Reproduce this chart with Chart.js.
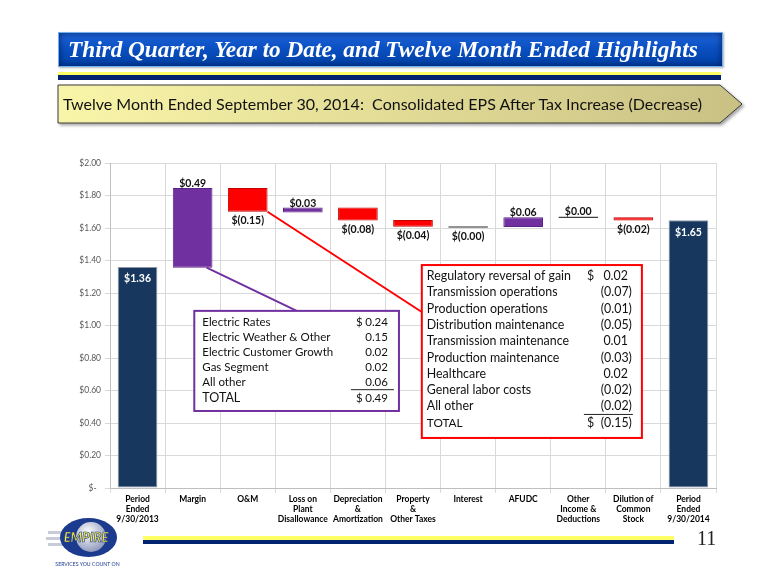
<!DOCTYPE html>
<html>
<head>
<meta charset="utf-8">
<script src="https://cdn.jsdelivr.net/npm/chart.js@4.4.1/dist/chart.umd.min.js"></script>
<style>
  body { margin: 0; background: #fff; }
  #page { position: relative; width: 780px; height: 585px; overflow: hidden; background: #fff; font-family: Lato, sans-serif; }
  #chart { position: absolute; left: 0; top: 0; }
  #titlebar {
    position: absolute; left: 58px; top: 32px; width: 663px; height: 33px;
    border: 1px solid #6fb0f0;
    background: linear-gradient(to bottom, #1f66d8 0%, #0b50c2 45%, #0041a6 100%);
    box-shadow: inset 0 0 7px rgba(0, 20, 80, .8), 1px 1px 2px rgba(0, 0, 0, .3);
  }
  #titletext {
    position: absolute; left: 9px; top: 0; line-height: 33px; white-space: nowrap; color: #fff;
    font-family: "Liberation Serif", serif; font-style: italic; font-weight: bold; font-size: 23px;
  }
  .stripe { position: absolute; }
  #subtitle { position: absolute; left: 56px; top: 83px; }
  #subtext { position: absolute; left: 63px; top: 92px; line-height: 24px; white-space: nowrap; color: #111; font-size: 17px; }
  #pagenum { position: absolute; left: 697px; top: 527px; font-family: "Liberation Serif", serif; font-size: 20px; color: #222; }
  #logo { position: absolute; left: 0; top: 500px; }
</style>
</head>
<body>
<div id="page">
  <canvas id="chart" width="780" height="585"></canvas>

  <div id="titlebar"><span id="titletext">Third Quarter, Year to Date, and Twelve Month Ended Highlights</span></div>
  <div class="stripe" style="left:58px;top:72px;width:663px;height:3px;background:#ffff66"></div>
  <div class="stripe" style="left:58px;top:75px;width:663px;height:5px;background:#002470"></div>

  <svg id="subtitle" width="700" height="50">
    <defs>
      <linearGradient id="khaki" x1="0" y1="0" x2="1" y2="0">
        <stop offset="0" stop-color="#f9f5a8"/>
        <stop offset="1" stop-color="#c9c184"/>
      </linearGradient>
      <filter id="shadow" x="-5%" y="-20%" width="110%" height="160%">
        <feDropShadow dx="2" dy="2" stdDeviation="1.5" flood-opacity="0.35"/>
      </filter>
    </defs>
    <polygon points="2,2 664,2 686,21 664,40 2,40" fill="url(#khaki)" stroke="#3a3a3a" stroke-width="1" filter="url(#shadow)"/>
  </svg>
  <div id="subtext">Twelve Month Ended September 30, 2014:&nbsp; Consolidated EPS After Tax Increase (Decrease)</div>

  <div class="stripe" style="left:143px;top:536px;width:531px;height:4px;background:#ffff66"></div>
  <div class="stripe" style="left:143px;top:540px;width:531px;height:4px;background:#002470"></div>
  <div id="pagenum">11</div>

  <svg id="logo" width="140" height="80">
    <defs>
      <radialGradient id="globe" cx="0.4" cy="0.35" r="0.7">
        <stop offset="0" stop-color="#ffffff"/>
        <stop offset="1" stop-color="#8a94b8"/>
      </radialGradient>
    </defs>
    <rect x="48" y="31" width="24" height="3" fill="#c8ccd8"/>
    <rect x="46" y="37" width="24" height="3" fill="#c8ccd8"/>
    <rect x="48" y="43" width="24" height="3" fill="#c8ccd8"/>
    <ellipse cx="88.5" cy="37.5" rx="28.5" ry="19.5" fill="#1c3b8e"/>
    <circle cx="91" cy="37" r="15" fill="url(#globe)"/>
    <text x="86" y="42" text-anchor="middle" font-family="Lato" font-style="italic" font-weight="900" font-size="13"
          fill="#f3e640" stroke="#1c3b8e" stroke-width="0.6">EMPIRE</text>
    <text x="87.5" y="66" text-anchor="middle" font-family="Lato" font-size="5.2" fill="#1c3b8e">SERVICES YOU COUNT ON</text>
  </svg>
</div>

<script>
// categories and waterfall values (start / end of each floating bar)
const categories = [
  ["Period", "Ended", "9/30/2013"], "Margin", "O&M", ["Loss on", "Plant", "Disallowance"],
  ["Depreciation", "&", "Amortization"], ["Property", "&", "Other Taxes"], "Interest", "AFUDC",
  ["Other", "Income &", "Deductions"], ["Dilution of", "Common", "Stock"], ["Period", "Ended", "9/30/2014"]
];
const barLow  = [0,    1.356, 1.700, 1.696, 1.646, 1.607, 1.602, 1.606, 1.662, 1.646, 0];
const barHigh = [1.36, 1.846, 1.846, 1.726, 1.726, 1.650, 1.611, 1.666, 1.671, 1.666, 1.647];
const barKinds = ["total", "up", "down", "up", "down", "down", "flat", "up", "flat", "down", "total"];
const barLabels = ["$1.36", "$0.49", "$(0.15)", "$0.03", "$(0.08)", "$(0.04)", "$(0.00)", "$0.06", "$0.00", "$(0.02)", "$1.65"];
const labelPos = ["in", "above", "below", "above", "below", "below", "below", "above", "above", "below", "in"];

const yTicks = [0, 0.2, 0.4, 0.6, 0.8, 1.0, 1.2, 1.4, 1.6, 1.8, 2.0];

// breakdown boxes
const marginItems = ["Electric Rates", "Electric Weather & Other", "Electric Customer Growth", "Gas Segment", "All other"];
const marginAmounts = [0.24, 0.15, 0.02, 0.02, 0.06];
const marginTotal = 0.49;

const omItems = ["Regulatory reversal of gain", "Transmission operations", "Production operations",
  "Distribution maintenance", "Transmission maintenance", "Production maintenance", "Healthcare",
  "General labor costs", "All other"];
const omAmounts = [0.02, -0.07, -0.01, -0.05, 0.01, -0.03, 0.02, -0.02, -0.02];
const omTotal = -0.15;

const fillColors = { total: "#17375e", up: "#7030a0", down: "#ff0000", flat: "#404040" };
const edgeColors = { total: "#8c96a6", up: "#5a2585", down: "#c00000", flat: "#404040" };

// fit a line of text into a given width
function fitText(el, target) {
  const size = parseFloat(getComputedStyle(el).fontSize);
  const w = el.getBoundingClientRect().width;
  el.style.fontSize = (size * target / w) + "px";
}

function fmt(v) {
  return v < 0 ? "(" + Math.abs(v).toFixed(2) + ")" : v.toFixed(2);
}

function drawBox(ctx, box) {
  ctx.save();
  ctx.fillStyle = "#fff";
  ctx.fillRect(box.l, box.t, box.r - box.l, box.b - box.t);
  ctx.strokeStyle = box.color;
  ctx.lineWidth = 2;
  ctx.strokeRect(box.l, box.t, box.r - box.l, box.b - box.t);

  ctx.fillStyle = "#111";
  ctx.textBaseline = "middle";
  const rows = box.items.length;
  for (let i = 0; i <= rows; i++) {
    const y = box.t + box.first + i * box.rowH;
    const isTotal = i === rows;
    const name = isTotal ? "TOTAL" : box.items[i];
    const amt = isTotal ? box.total : box.amounts[i];
    ctx.font = (isTotal ? box.totalFont : box.font) + "px Lato";
    ctx.textAlign = "left";
    ctx.fillText(name, box.l + box.pad, y);
    ctx.font = box.font + "px Lato";
    if (i === 0 || isTotal) ctx.fillText("$", box.dollarX, y);
    ctx.textAlign = "right";
    ctx.fillText(fmt(amt), box.valRight - (amt >= 0 ? box.parenPad : 0), y);
  }
  // underline above the total
  const uy = box.t + box.first + (rows - 1) * box.rowH + box.ulOff;
  ctx.strokeStyle = "#222";
  ctx.lineWidth = 1;
  ctx.beginPath();
  ctx.moveTo(box.ulL, uy);
  ctx.lineTo(box.ulR, uy);
  ctx.stroke();
  ctx.restore();
}

const calloutPlugin = {
  id: "callouts",
  afterDatasetsDraw(chart) {
    const ctx = chart.ctx;
    const xs = chart.scales.x, ys = chart.scales.y;
    const bars = chart.getDatasetMeta(0).data;

    // value labels
    ctx.save();
    ctx.font = "bold 10.5px Lato";
    ctx.textAlign = "center";
    bars.forEach((bar, i) => {
      const top = Math.min(bar.y, bar.base), bottom = Math.max(bar.y, bar.base);
      if (labelPos[i] === "in") {
        ctx.fillStyle = "#fff";
        ctx.textBaseline = "middle";
        ctx.fillText(barLabels[i], bar.x, top + 12);
      } else if (labelPos[i] === "above") {
        ctx.fillStyle = "#111";
        ctx.textBaseline = "alphabetic";
        ctx.fillText(barLabels[i], bar.x, top - 1);
      } else {
        ctx.fillStyle = "#111";
        ctx.textBaseline = "alphabetic";
        ctx.fillText(barLabels[i], bar.x, bottom + 12);
      }
    });
    ctx.restore();

    const purple = {
      l: xs.getPixelForValue(1.03), r: xs.getPixelForValue(4.745),
      t: ys.getPixelForValue(1.09), b: ys.getPixelForValue(0.474),
      color: "#7030a0", items: marginItems, amounts: marginAmounts, total: marginTotal,
      font: 11.5, totalFont: 12.5, rowH: 15.2, first: 11, pad: 8, parenPad: 0
    };
    purple.valRight = purple.r - 11; purple.dollarX = purple.r - 43;
    purple.ulL = purple.r - 48; purple.ulR = purple.r - 5; purple.ulOff = 7;

    const red = {
      l: xs.getPixelForValue(5.16), r: xs.getPixelForValue(9.155),
      t: ys.getPixelForValue(1.372), b: ys.getPixelForValue(0.308),
      color: "#ff0000", items: omItems, amounts: omAmounts, total: omTotal,
      font: 12.4, totalFont: 11.8, rowH: 16.3, first: 11, pad: 5, parenPad: 4
    };
    red.valRight = red.r - 10; red.dollarX = red.r - 55;
    red.ulL = red.r - 58; red.ulR = red.r - 9; red.ulOff = 8;

    // connector lines from the bars to their boxes
    ctx.save();
    ctx.lineWidth = 2;
    ctx.strokeStyle = "#7030a0";
    ctx.beginPath();
    ctx.moveTo(bars[1].x + 14, ys.getPixelForValue(barLow[1]));
    ctx.lineTo(xs.getPixelForValue(2.89), purple.t);
    ctx.stroke();
    ctx.strokeStyle = "#ff0000";
    ctx.beginPath();
    ctx.moveTo(bars[2].x + bars[2].width / 2, ys.getPixelForValue(barLow[2]));
    ctx.lineTo(red.l, ys.getPixelForValue(1.083));
    ctx.stroke();
    ctx.restore();

    drawBox(ctx, purple);
    drawBox(ctx, red);
  }
};

function buildChart() {
  fitText(document.getElementById("titletext"), 630);
  fitText(document.getElementById("subtext"), 640);

  const ctx = document.getElementById("chart").getContext("2d");
  new Chart(ctx, {
    type: "bar",
    data: {
      labels: categories,
      datasets: [{
        data: barLow.map((lo, i) => [lo, barHigh[i]]),
        backgroundColor: barKinds.map(k => fillColors[k]),
        borderColor: barKinds.map(k => edgeColors[k]),
        borderWidth: 1,
        borderSkipped: false,
        categoryPercentage: 1,
        barPercentage: 0.72
      }]
    },
    options: {
      responsive: false,
      animation: false,
      layout: { padding: { top: 163, right: 64, bottom: 47, left: 0 } },
      plugins: { legend: { display: false }, tooltip: { enabled: false } },
      scales: {
        x: {
          grid: { color: "#d9d9d9", tickLength: 5, offset: true },
          border: { color: "#bfbfbf" },
          ticks: { font: { family: "Lato", size: 8.5, weight: "bold" }, color: "#000", padding: 1, maxRotation: 0, autoSkip: false },
          afterFit: s => { s.height = 50; }
        },
        y: {
          min: yTicks[0],
          max: yTicks[yTicks.length - 1],
          afterBuildTicks: s => { s.ticks = yTicks.map(v => ({ value: v })); },
          grid: { color: "#d9d9d9", tickLength: 5 },
          border: { color: "#bfbfbf" },
          ticks: {
            font: { family: "Lato", size: 8.5 }, color: "#595959", padding: 4,
            callback: v => v === 0 ? "$-  " : "$" + v.toFixed(2)
          },
          afterFit: s => { s.width = 110; }
        }
      }
    },
    plugins: [calloutPlugin]
  });
}

Promise.all([
  document.fonts.load("10px Lato"),
  document.fonts.load("bold 10px Lato"),
  document.fonts.load("italic bold 20px 'Liberation Serif'")
]).then(buildChart, buildChart);
</script>
</body>
</html>
